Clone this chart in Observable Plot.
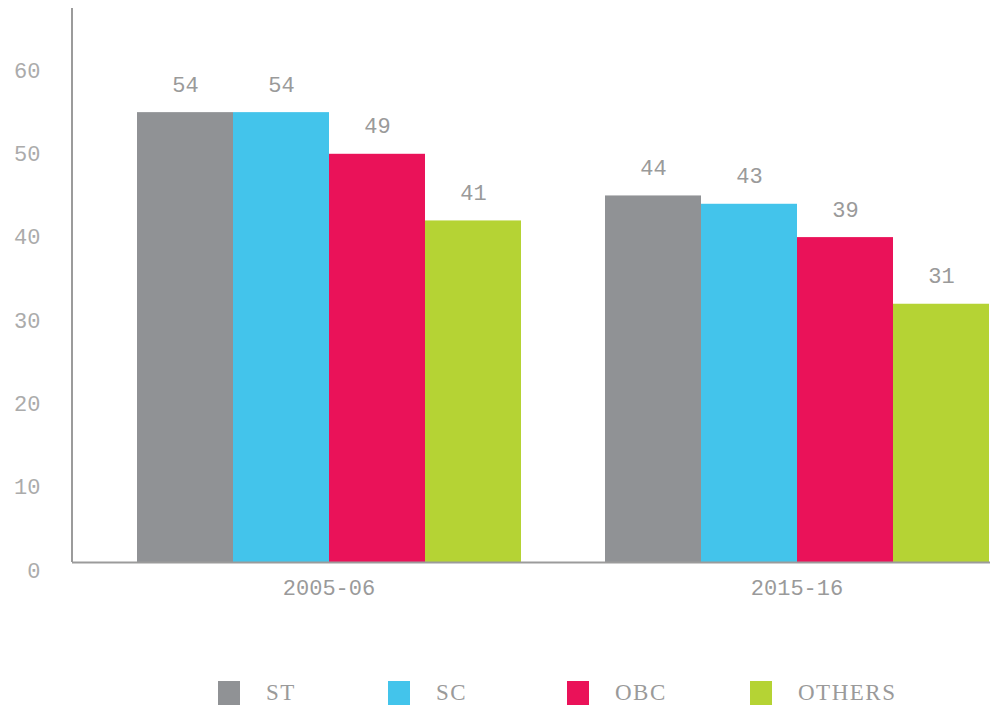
<!DOCTYPE html>
<html>
<head>
<meta charset="utf-8">
<script src="https://cdn.jsdelivr.net/npm/d3@7"></script>
<script src="https://cdn.jsdelivr.net/npm/@observablehq/plot@0.6"></script>
<style>
  body { margin: 0; background: #fff; font-family: "Liberation Mono", monospace; }
  #legend { display: flex; align-items: center; margin-top: 61px; padding-left: 218px; height: 24px; }
  .item { display: flex; align-items: center; }
  .item:nth-child(1) { width: 170px; }
  .item:nth-child(2) { width: 179px; }
  .item:nth-child(3) { width: 183px; }
  .sw { width: 22px; height: 24px; margin-right: 26px; }
  .lab { font-family: "Liberation Serif", serif; font-size: 23px; color: #9a9a9a; letter-spacing: 1.5px; }
</style>
</head>
<body>
<div id="chart"></div>
<div id="legend"></div>
<script>
const years = ["2005-06", "2015-16"];
const groups = ["ST", "SC", "OBC", "OTHERS"];
const values2005 = [54, 54, 49, 41];
const values2015 = [44, 43, 39, 31];
const colors = ["#909295", "#43c4eb", "#ea1259", "#b5d334"];
const yTicks = [0, 10, 20, 30, 40, 50, 60];

const series = [values2005, values2015];
const data = years.flatMap((yr, yi) => groups.map((g, i) => ({year: yr, group: g, value: series[yi][i]})));

const W = 1004, H = 620, mL = 72, mR = 14, mT = 8, mB = 58;
const fxLeft = 135, fxRight = W - mR, gap = 81;
const band = (fxRight - fxLeft - gap) / 2;
const yMax = 66.5;
const axisColor = "#9b9b9b";

const chart = Plot.plot({
  width: W, height: H,
  marginLeft: mL, marginRight: mR, marginTop: mT, marginBottom: mB,
  style: {fontFamily: "Liberation Mono, monospace", background: "#fff"},
  fx: {domain: years, range: [fxLeft, fxRight], paddingInner: gap / (band + gap), paddingOuter: 0, axis: null, label: null},
  x: {domain: groups, padding: 0, axis: null},
  y: {domain: [0, yMax], axis: null},
  color: {domain: groups, range: colors},
  marks: [
    Plot.barY(data, {fx: "year", x: "group", y: "value", fill: "group"}),
    Plot.text(data, {fx: "year", x: "group", y: "value", text: d => String(d.value), dy: -28, fontSize: 22, fill: "#9a9a9a"}),
    Plot.ruleY([{year: years[0], v: 0}], {fx: "year", y: "v", insetLeft: -(fxLeft - mL), insetRight: -gap, stroke: axisColor, strokeWidth: 2}),
    Plot.ruleY([{year: years[1], v: 0}], {fx: "year", y: "v", stroke: axisColor, strokeWidth: 2}),
    Plot.rect([{year: years[0], lo: 0, hi: yMax}], {fx: "year", y1: "lo", y2: "hi", insetLeft: -(fxLeft - mL) - 1, insetRight: band + (fxLeft - mL) - 1, fill: axisColor}),
    Plot.axisY({ticks: yTicks, tickSize: 0, tickPadding: 95, dy: 8, fontSize: 22, color: "#ababab", label: null}),
    Plot.axisFx({anchor: "bottom", tickSize: 0, tickPadding: 17, fontSize: 22, color: "#9a9a9a", label: null})
  ]
});
document.getElementById("chart").appendChild(chart);

const legend = document.getElementById("legend");
groups.forEach((g, i) => {
  const item = document.createElement("div");
  item.className = "item";
  const sw = document.createElement("div");
  sw.className = "sw";
  sw.style.background = colors[i];
  const lab = document.createElement("span");
  lab.className = "lab";
  lab.textContent = g;
  item.appendChild(sw);
  item.appendChild(lab);
  legend.appendChild(item);
});
</script>
</body>
</html>
